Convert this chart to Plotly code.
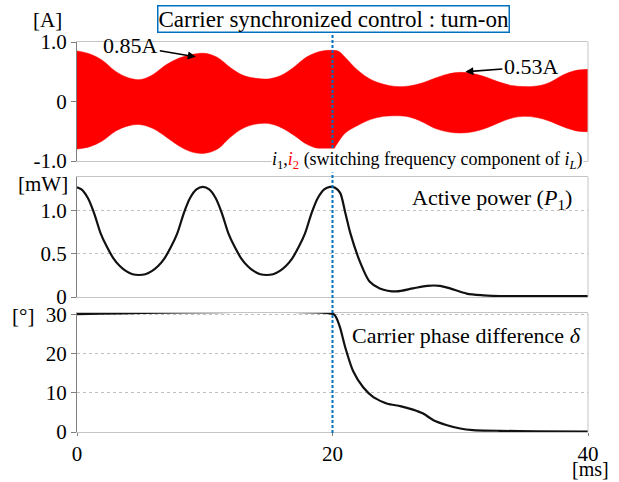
import plotly.graph_objects as go

W, H = 619, 482
def px(x): return x / W
def py(y): return 1 - y / H

# ---- data ----
t_up = [0, 1, 2, 3, 4, 5, 6, 7, 8, 9, 10, 11, 12, 13, 14, 15, 16, 17, 18, 19, 20, 20.5,
        21, 22, 23, 24, 25, 26, 27, 28, 29, 30, 31, 32, 33, 34, 35, 36, 37, 38, 39, 40]
i_up = [0.85, 0.80, 0.69, 0.51, 0.40, 0.37, 0.46, 0.62, 0.73, 0.79, 0.81, 0.74, 0.57, 0.44,
        0.39, 0.38, 0.44, 0.58, 0.75, 0.84, 0.86, 0.84,
        0.74, 0.52, 0.37, 0.29, 0.25, 0.26, 0.31, 0.39, 0.46, 0.49, 0.47, 0.41, 0.33, 0.27,
        0.25, 0.26, 0.32, 0.44, 0.52, 0.54]
t_low = [0, 1, 2, 3, 4, 5, 6, 7, 8, 9, 10, 11, 12, 13, 14, 15, 16, 17, 18, 19, 20, 20.3,
         21, 22, 23, 24, 25, 26, 27, 28, 29, 30, 31, 32, 33, 34, 35, 36, 37, 38, 39, 40]
i_low = [-0.80, -0.76, -0.66, -0.50, -0.41, -0.39, -0.46, -0.60, -0.75, -0.85, -0.87, -0.80,
         -0.60, -0.45, -0.38, -0.37, -0.44, -0.57, -0.72, -0.80, -0.82, -0.73,
         -0.53, -0.40, -0.30, -0.25, -0.24, -0.26, -0.34, -0.45, -0.51, -0.53, -0.51, -0.45,
         -0.36, -0.28, -0.25, -0.27, -0.33, -0.42, -0.49, -0.51]

t_p = [0, 0.35, 0.85, 1.35, 1.85, 2.35, 2.85, 3.35, 3.85, 4.35, 4.85,
       5.35, 5.85, 6.35, 6.85, 7.35, 7.85, 8.35, 8.85, 9.35, 9.85,
       10.35, 10.85, 11.35, 11.85, 12.35, 12.85, 13.35, 13.85, 14.35, 14.85,
       15.35, 15.85, 16.35, 16.85, 17.35, 17.85, 18.35, 18.85, 19.35, 19.8,
       20.2, 20.6, 21.0, 21.4, 22.2, 22.9, 23.7, 25.0, 26.3, 27.4, 28.4, 29.2,
       30.5, 31.8, 33.1, 36, 40]
p1 = [1.275, 1.25, 1.15, 0.97, 0.74, 0.58, 0.45, 0.36, 0.30, 0.265, 0.256,
      0.265, 0.30, 0.36, 0.45, 0.58, 0.74, 0.97, 1.15, 1.25, 1.28,
      1.25, 1.15, 0.97, 0.74, 0.58, 0.45, 0.36, 0.30, 0.265, 0.256,
      0.265, 0.30, 0.36, 0.45, 0.58, 0.74, 0.97, 1.15, 1.25, 1.28,
      1.27, 1.21, 0.98, 0.74, 0.39, 0.18, 0.10, 0.065, 0.10, 0.13, 0.13, 0.10,
      0.04, 0.02, 0.01, 0.01, 0.01]

t_d = [0, 20.1, 20.3, 20.6, 21.0, 21.6, 22.4, 23.2, 24.3, 25.3, 26.3, 27.1, 27.9, 28.9,
       30.0, 31.0, 33.1, 36, 40]
delta = [30, 30, 29.1, 26.5, 21.5, 15.6, 11.4, 8.9, 7.2, 6.6, 5.7, 4.7, 3.0, 1.8,
         0.9, 0.5, 0.3, 0.15, 0.1]

x_ticks = [0, 20, 40]
y1_ticks = [-1.0, 0, 1.0]
y1_text = ["-1.0", "0", "1.0"]
y2_ticks = [0, 0.5, 1.0]
y2_text = ["0", "0.5", "1.0"]
y3_ticks = [0, 10, 20, 30]

FONT = "Liberation Serif, Times New Roman, serif"
RED = "#ff0000"
BLUE = "#0070c0"

fig = go.Figure()
fig.add_trace(go.Scatter(x=t_low, y=i_low, mode="lines", line=dict(color=RED, width=0.5, shape="spline"),
                         xaxis="x", yaxis="y", showlegend=False, hoverinfo="skip"))
fig.add_trace(go.Scatter(x=t_up, y=i_up, mode="lines", fill="tonexty", fillcolor=RED,
                         line=dict(color=RED, width=0.5, shape="spline"),
                         xaxis="x", yaxis="y", showlegend=False, hoverinfo="skip"))
fig.add_trace(go.Scatter(x=t_p, y=p1, mode="lines", line=dict(color="#111", width=2.2, shape="spline", smoothing=0.8),
                         xaxis="x2", yaxis="y2", showlegend=False))
fig.add_trace(go.Scatter(x=t_d, y=delta, mode="lines", line=dict(color="#111", width=2.2, shape="spline", smoothing=0.6),
                         xaxis="x3", yaxis="y3", showlegend=False))

xdom = [px(77), px(588)]
ydoms = [[py(161), py(42)], [py(297), py(177)], [py(432), py(313)]]

common_x = dict(range=[0, 40], domain=xdom, showgrid=False, zeroline=False, showline=True,
                linecolor="#c4c4c4", linewidth=1, mirror=True, fixedrange=True, automargin=False)
common_y = dict(showline=True, linecolor="#808080", linewidth=1, zeroline=False, ticks="outside",
                ticklen=5, tickcolor="#808080", tickfont=dict(family=FONT, size=21, color="black"),
                fixedrange=True, automargin=False)

fig.update_layout(
    width=W, height=H, margin=dict(l=0, r=0, t=0, b=0, autoexpand=False),
    font=dict(family=FONT, color="black"),
    paper_bgcolor="white", plot_bgcolor="white", showlegend=False,
    xaxis=dict(**common_x, anchor="y", showticklabels=False, ticks=""),
    xaxis2=dict(**common_x, anchor="y2", showticklabels=False, ticks="", matches="x"),
    xaxis3=dict(**common_x, anchor="y3", tickvals=x_ticks, ticks="outside", ticklen=3,
                tickcolor="#808080", tickfont=dict(family=FONT, size=21, color="black"), matches="x"),
    yaxis=dict(**common_y, domain=ydoms[0], anchor="x", range=[-1, 1], tickvals=y1_ticks,
               ticktext=y1_text, showgrid=False),
    yaxis2=dict(**common_y, domain=ydoms[1], anchor="x2", range=[0, 1.395], tickvals=y2_ticks,
                ticktext=y2_text, showgrid=True, gridcolor="#c0c0c0", griddash="dot", gridwidth=1),
    yaxis3=dict(**common_y, domain=ydoms[2], anchor="x3", range=[0, 30.3], tickvals=y3_ticks,
                showgrid=True, gridcolor="#c0c0c0", griddash="dot", gridwidth=1),
)

# right border in light gray for each panel
for xr, yr in [("x", "y"), ("x2", "y2"), ("x3", "y3")]:
    fig.add_shape(type="line", xref=xr + " domain", yref=yr + " domain", x0=1, x1=1, y0=0, y1=1,
                  line=dict(color="#c4c4c4", width=1), layer="above")

# vertical blue dashed line at t = 20 ms
fig.add_shape(type="line", xref="x", yref="paper", x0=20, x1=20, y0=py(433), y1=py(34),
              line=dict(color=BLUE, width=2, dash="3px,2px"), layer="above")

ann = []
def text(x, y, s, size=21, xanchor="center", color="black", **kw):
    ann.append(dict(x=px(x), y=py(y), xref="paper", yref="paper", text=s, showarrow=False,
                    xanchor=xanchor, yanchor="middle", font=dict(family=FONT, size=size, color=color), **kw))

text(333.5, 19.5, "Carrier synchronized control : turn-on", size=23, bordercolor=BLUE,
     borderwidth=1.5, borderpad=0, bgcolor="white")
text(47, 20, "[A]", size=21)
text(43, 184, "[mW]", size=21)
text(23, 316, "[°]", size=21)
text(590, 469, "[ms]", size=20)
text(584, 161, "<i>i</i><sub>1</sub>,<span style='color:red'><i>i</i><sub>2</sub></span>"
               " (switching frequency component of <i>i<sub>L</sub></i>)",
     size=18, xanchor="right", bgcolor="white", borderpad=0)
text(574, 199, "Active power (<i>P</i><sub>1</sub>)", size=22, xanchor="right")
text(583, 335, "Carrier phase difference <i>δ</i>", size=22, xanchor="right")

# arrows
ann.append(dict(x=9.3, y=0.75, xref="x", yref="y", ax=-65, ay=-11, text="0.85A", showarrow=True,
                arrowhead=2, arrowsize=1, arrowwidth=1.6, arrowcolor="black",
                font=dict(family=FONT, size=22, color="black")))
ann.append(dict(x=30.4, y=0.50, xref="x", yref="y", ax=66, ay=-5, text="0.53A", showarrow=True,
                arrowhead=2, arrowsize=1, arrowwidth=1.6, arrowcolor="black",
                font=dict(family=FONT, size=22, color="black")))
fig.update_layout(annotations=ann)

fig.write_html("out.html")
